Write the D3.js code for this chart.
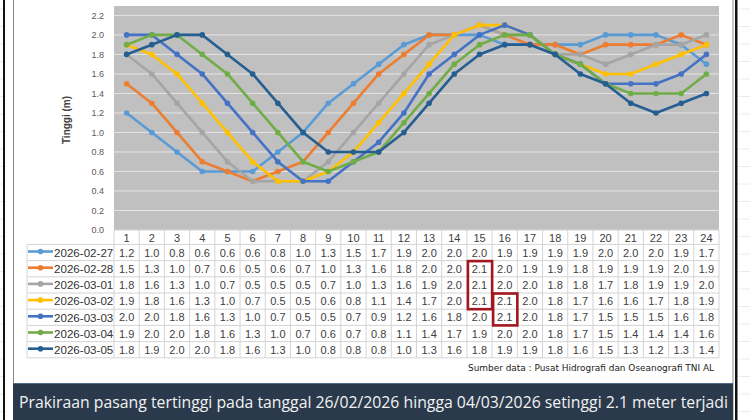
<!DOCTYPE html>
<html>
<head>
<meta charset="utf-8">
<script src="https://cdn.jsdelivr.net/npm/d3@7"></script>
<style>
  html, body { margin: 0; padding: 0; background: #fff; }
  svg { display: block; }
</style>
</head>
<body>
<div id="chart"></div>
<script>
const hours = d3.range(1, 25);
const dates = ["2026-02-27", "2026-02-28", "2026-03-01", "2026-03-02", "2026-03-03", "2026-03-04", "2026-03-05"];
const d0227 = [1.2, 1.0, 0.8, 0.6, 0.6, 0.6, 0.8, 1.0, 1.3, 1.5, 1.7, 1.9, 2.0, 2.0, 2.0, 1.9, 1.9, 1.9, 1.9, 2.0, 2.0, 2.0, 1.9, 1.7];
const d0228 = [1.5, 1.3, 1.0, 0.7, 0.6, 0.5, 0.6, 0.7, 1.0, 1.3, 1.6, 1.8, 2.0, 2.0, 2.1, 2.0, 1.9, 1.9, 1.8, 1.9, 1.9, 1.9, 2.0, 1.9];
const d0301 = [1.8, 1.6, 1.3, 1.0, 0.7, 0.5, 0.5, 0.5, 0.7, 1.0, 1.3, 1.6, 1.9, 2.0, 2.1, 2.0, 2.0, 1.8, 1.8, 1.7, 1.8, 1.9, 1.9, 2.0];
const d0302 = [1.9, 1.8, 1.6, 1.3, 1.0, 0.7, 0.5, 0.5, 0.6, 0.8, 1.1, 1.4, 1.7, 2.0, 2.1, 2.1, 2.0, 1.8, 1.7, 1.6, 1.6, 1.7, 1.8, 1.9];
const d0303 = [2.0, 2.0, 1.8, 1.6, 1.3, 1.0, 0.7, 0.5, 0.5, 0.7, 0.9, 1.2, 1.6, 1.8, 2.0, 2.1, 2.0, 1.8, 1.7, 1.5, 1.5, 1.5, 1.6, 1.8];
const d0304 = [1.9, 2.0, 2.0, 1.8, 1.6, 1.3, 1.0, 0.7, 0.6, 0.7, 0.8, 1.1, 1.4, 1.7, 1.9, 2.0, 2.0, 1.8, 1.7, 1.5, 1.4, 1.4, 1.4, 1.6];
const d0305 = [1.8, 1.9, 2.0, 2.0, 1.8, 1.6, 1.3, 1.0, 0.8, 0.8, 0.8, 1.0, 1.3, 1.6, 1.8, 1.9, 1.9, 1.8, 1.6, 1.5, 1.3, 1.2, 1.3, 1.4];
const allSeries = [d0227, d0228, d0301, d0302, d0303, d0304, d0305];
const colors = ["#5b9bd5", "#ed7d31", "#a5a5a5", "#ffc000", "#4472c4", "#70ad47", "#255e91"];
const yTicks = [0, 0.2, 0.4, 0.6, 0.8, 1.0, 1.2, 1.4, 1.6, 1.8, 2.0, 2.2];
// highlighted cells: [row index, hour, number of rows]
const highlight = [[1, 15, 3], [3, 16, 2]];
const sourceText = "Sumber data : Pusat Hidrografi dan Oseanografi TNI AL";
const footerText = "Prakiraan pasang tertinggi pada tanggal 26/02/2026 hingga 04/03/2026 setinggi 2.1 meter terjadi";

const W = 750, H = 420;
const svg = d3.select("#chart").append("svg").attr("width", W).attr("height", H);

// spreadsheet behind the frame
const bgLines = d3.range(0, H, 17.5);
svg.selectAll(".bgl").data(bgLines).enter().append("line")
  .attr("x1", 0).attr("x2", W).attr("y1", d => d + 9).attr("y2", d => d + 9)
  .attr("stroke", "#ececec").attr("stroke-width", 1);
svg.append("rect").attr("x", 3).attr("y", 0).attr("width", 2).attr("height", H).attr("fill", "#111");
svg.append("rect").attr("x", 735).attr("y", 0).attr("width", 2.5).attr("height", H).attr("fill", "#111");
svg.append("rect").attr("x", 5).attr("y", 0).attr("width", 730).attr("height", H).attr("fill", "#fff");
svg.append("rect").attr("x", 13.5).attr("y", -2).attr("width", 719.5).attr("height", H + 4)
  .attr("fill", "#fff").attr("stroke", "#8a8a8a").attr("stroke-width", 1);

// scales
const x = d3.scaleBand().domain(hours).range([114, 719]).padding(0);
const y = d3.scaleLinear().domain([0, 2.2]).range([230, 15.4]);
const cx = h => x(h) + x.bandwidth() / 2;

// plot area
svg.append("rect").attr("x", 114).attr("y", 6).attr("width", 605).attr("height", 224).attr("fill", "#c0c0c0");
svg.append("g")
  .selectAll("line").data(yTicks.slice(1)).enter().append("line")
  .attr("x1", 114).attr("x2", 719)
  .attr("y1", d => y(d)).attr("y2", d => y(d))
  .attr("stroke", "#e4e4e4").attr("stroke-width", 1);

const yAxis = svg.append("g")
  .attr("transform", "translate(108,0)")
  .call(d3.axisLeft(y).tickValues(yTicks).tickFormat(d3.format(".1f")).tickSize(0).tickPadding(4));
yAxis.select(".domain").remove();
yAxis.selectAll("text").attr("font-family", "Liberation Sans, Arial, sans-serif").attr("font-size", 9).attr("fill", "#595959");

svg.append("text")
  .attr("transform", "translate(70,120) rotate(-90)")
  .attr("text-anchor", "middle")
  .attr("font-family", "Liberation Sans, Arial, sans-serif")
  .attr("font-size", 10).attr("font-weight", "bold").attr("fill", "#404040")
  .text("Tinggi (m)");

// series
const line = d3.line().x((d, i) => cx(hours[i])).y(d => y(d));
allSeries.forEach((s, k) => {
  const g = svg.append("g");
  g.append("path").datum(s).attr("d", line)
    .attr("fill", "none").attr("stroke", colors[k]).attr("stroke-width", 2.6).attr("stroke-linejoin", "round");
  g.selectAll("circle").data(s).enter().append("circle")
    .attr("cx", (d, i) => cx(hours[i])).attr("cy", d => y(d)).attr("r", 2.8)
    .attr("fill", colors[k]);
});

// data table
const rowH = 16.2, headTop = 230, rowTop = 244.4;
const tableLeft = 27;
const tableBottom = rowTop + dates.length * rowH;
const tbl = svg.append("g").attr("font-family", "Liberation Sans, Arial, sans-serif");
const gridColor = "#d4d4d4";

// horizontal borders
tbl.append("line").attr("x1", 114).attr("x2", 719).attr("y1", headTop).attr("y2", headTop).attr("stroke", gridColor);
d3.range(dates.length + 1).forEach(i => {
  tbl.append("line").attr("x1", tableLeft).attr("x2", 719)
    .attr("y1", rowTop + i * rowH).attr("y2", rowTop + i * rowH).attr("stroke", gridColor);
});
// vertical borders
tbl.append("line").attr("x1", tableLeft).attr("x2", tableLeft).attr("y1", rowTop).attr("y2", tableBottom).attr("stroke", gridColor);
hours.concat([25]).forEach(h => {
  const xx = h === 25 ? 719 : x(h);
  tbl.append("line").attr("x1", xx).attr("x2", xx).attr("y1", headTop).attr("y2", tableBottom).attr("stroke", gridColor);
});

// header
tbl.selectAll(".hd").data(hours).enter().append("text")
  .attr("x", d => cx(d)).attr("y", headTop + 11.5)
  .attr("text-anchor", "middle").attr("font-size", 11).attr("fill", "#404040")
  .text(d => d);

// rows
dates.forEach((dt, r) => {
  const cy = rowTop + r * rowH + rowH / 2;
  tbl.append("line").attr("x1", 28).attr("x2", 53).attr("y1", cy - 1).attr("y2", cy - 1)
    .attr("stroke", colors[r]).attr("stroke-width", 2.6);
  tbl.append("circle").attr("cx", 40.5).attr("cy", cy - 1).attr("r", 2.8).attr("fill", colors[r]);
  tbl.append("text").attr("x", 54).attr("y", cy + 4.2)
    .attr("font-size", 11.6).attr("fill", "#333").text(dt);
  tbl.selectAll(".v" + r).data(allSeries[r]).enter().append("text")
    .attr("x", (d, i) => cx(hours[i])).attr("y", cy + 4)
    .attr("text-anchor", "middle").attr("font-size", 11).attr("fill", "#404040")
    .text(d => d.toFixed(1));
});

// red boxes around the highest values
highlight.forEach(([r, h, n]) => {
  svg.append("rect")
    .attr("x", x(h) + 1).attr("y", rowTop + r * rowH + 0.5)
    .attr("width", x.bandwidth() - 1).attr("height", n * rowH - 0.5)
    .attr("fill", "none").attr("stroke", "#a3161d").attr("stroke-width", 2.6);
});

// source note
svg.append("text")
  .attr("x", 714).attr("y", 371).attr("text-anchor", "end")
  .attr("font-family", "Liberation Sans Narrow, DejaVu Sans Condensed, sans-serif")
  .attr("font-size", 9.5).attr("fill", "#222")
  .attr("textLength", 246).attr("lengthAdjust", "spacingAndGlyphs")
  .text(sourceText);

// footer bar
svg.append("rect").attr("x", 13).attr("y", 383).attr("width", 720).attr("height", 40).attr("fill", "#2a3a4c");
svg.append("line").attr("x1", 13).attr("x2", 733).attr("y1", 383.5).attr("y2", 383.5).attr("stroke", "#4d6a86").attr("stroke-width", 1);
svg.append("text")
  .attr("x", 19).attr("y", 408)
  .attr("font-family", "Open Sans, Noto Sans, sans-serif")
  .attr("font-size", 15.6).attr("fill", "#f2f2f2")
  .attr("textLength", 709).attr("lengthAdjust", "spacingAndGlyphs")
  .text(footerText);
</script>
</body>
</html>
